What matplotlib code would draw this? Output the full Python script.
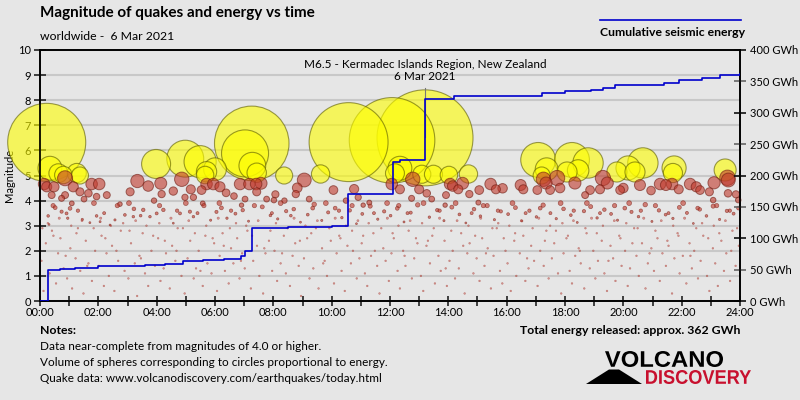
import numpy as np
import matplotlib
matplotlib.use('Agg')
import matplotlib.pyplot as plt
from matplotlib.textpath import TextPath
from matplotlib.patches import PathPatch, Polygon
from matplotlib.font_manager import FontProperties
from matplotlib.transforms import Affine2D

plt.rcParams['font.family'] = ['Lato', 'DejaVu Sans']

# quakes M >= 5 (hour of day, magnitude)
quakes_big = [
    (0.23, 6.32), (0.34, 5.29), (0.63, 5.09), (0.80, 5.02), (1.26, 5.10), (1.37, 5.00),
    (3.98, 5.46), (4.98, 5.67), (5.49, 5.55), (5.66, 5.02), (5.71, 5.15), (6.00, 5.25),
    (7.03, 5.88), (7.26, 6.28), (7.28, 5.39), (7.43, 5.11), (8.37, 5.00), (9.62, 5.06),
    (10.58, 6.33), (12.07, 6.40), (12.17, 5.09), (12.34, 5.29), (13.09, 5.05), (13.20, 6.50),
    (13.49, 5.05), (14.02, 5.02), (14.69, 5.06), (17.08, 5.62), (17.20, 5.00), (17.37, 5.25),
    (18.07, 5.14), (18.24, 5.62), (18.45, 5.20), (18.79, 5.50), (19.78, 5.14), (20.16, 5.30),
    (20.40, 5.14), (20.67, 5.50), (21.70, 5.10), (21.74, 5.30), (23.49, 5.22),
]

# quakes M 3.8 - 5
quakes_red = [
    (0.14, 4.66), (0.23, 4.55), (0.48, 4.55), (0.86, 4.89), (0.86, 4.22), (1.14, 4.55),
    (1.37, 4.35), (1.77, 4.66), (2.03, 4.66), (1.66, 4.29), (2.29, 4.22), (1.94, 4.16),
    (1.51, 4.06), (0.40, 4.22), (0.74, 4.09), (3.34, 4.78), (3.71, 4.58), (4.14, 4.69),
    (4.57, 4.38), (4.86, 4.85), (5.17, 4.45), (5.54, 4.42), (3.09, 4.35), (4.17, 4.26),
    (3.91, 4.00), (4.97, 4.13), (5.26, 4.13), (5.71, 4.66), (5.94, 4.66), (6.17, 4.55),
    (6.38, 4.31), (6.65, 4.18), (6.86, 4.66), (7.18, 4.66), (7.41, 4.66), (7.58, 4.69),
    (7.43, 4.35), (7.03, 4.06), (7.77, 4.06), (8.07, 4.25), (8.02, 4.02), (8.38, 4.00),
    (8.82, 4.51), (9.06, 4.82), (8.77, 4.26), (9.23, 4.06), (10.06, 4.42), (10.77, 4.46),
    (10.91, 4.13), (10.49, 4.00), (12.06, 4.66), (12.34, 4.45), (13.00, 4.45), (13.26, 4.29),
    (12.78, 4.85), (13.43, 4.06), (13.92, 4.22), (14.06, 4.66), (14.15, 4.58), (14.34, 4.45),
    (14.49, 4.69), (15.06, 4.42), (15.45, 4.66), (15.63, 4.45), (15.86, 4.49), (16.48, 4.62),
    (16.57, 4.45), (17.05, 4.42), (17.26, 4.85), (12.74, 4.09), (14.72, 4.26), (17.35, 4.70),
    (17.73, 4.90), (17.83, 4.50), (18.34, 4.70), (18.86, 4.42), (19.30, 4.90), (19.89, 4.42),
    (20.57, 4.62), (21.26, 4.66), (21.46, 4.62), (21.67, 4.66), (22.29, 4.66), (22.63, 4.42),
    (22.95, 4.35), (23.08, 4.02), (23.11, 4.71), (23.57, 4.91), (23.60, 4.82), (23.59, 4.29),
    (23.86, 4.25), (23.94, 4.02), (17.49, 4.42), (18.69, 4.22), (2.74, 3.86), (1.09, 3.89),
    (5.58, 3.89), (6.91, 3.82), (11.29, 3.92), (11.08, 3.82), (13.89, 3.82), (15.03, 3.92),
    (19.20, 4.45), (19.45, 4.70), (20.00, 4.50), (20.95, 4.40), (21.90, 4.45), (22.50, 4.55),
]

# quakes M 3 - 3.9
quakes_mid = [
    (0.28, 3.39), (0.31, 3.05), (0.52, 3.72), (0.74, 3.56), (0.91, 3.49), (1.03, 3.69),
    (1.45, 3.25), (1.71, 3.12), (1.94, 3.39), (2.06, 3.16), (2.40, 3.03), (2.57, 3.23),
    (2.91, 3.43), (3.20, 3.36), (3.22, 3.67), (3.54, 3.63), (3.77, 3.36), (4.00, 3.49),
    (4.23, 3.63), (4.57, 3.10), (4.80, 3.49), (5.14, 3.56), (5.26, 3.36), (5.62, 3.80),
    (5.85, 3.22), (6.05, 3.55), (6.22, 3.71), (6.41, 3.30), (6.70, 3.48), (6.95, 3.62),
    (7.15, 3.18), (7.62, 3.75), (7.90, 3.41), (8.15, 3.27), (8.44, 3.58), (8.70, 3.66),
    (8.93, 3.14), (9.18, 3.44), (9.40, 3.85), (9.66, 3.21), (9.88, 3.53), (10.12, 3.70),
    (10.35, 3.32), (10.62, 3.61), (10.85, 3.08), (11.05, 3.47), (11.32, 3.78), (11.58, 3.26),
    (11.80, 3.57), (12.02, 3.40), (12.25, 3.69), (12.48, 3.15), (12.71, 3.52), (12.95, 3.83),
    (13.35, 3.34), (13.62, 3.62), (13.85, 3.20), (14.12, 3.74), (14.38, 3.45), (14.60, 3.11),
    (14.88, 3.66), (15.10, 3.38), (15.33, 3.80), (15.58, 3.24), (15.80, 3.57), (16.05, 3.46),
    (16.30, 3.72), (16.52, 3.19), (16.78, 3.60), (17.02, 3.35), (17.25, 3.82), (17.50, 3.50),
    (17.70, 3.28), (17.95, 3.67), (18.20, 3.42), (18.42, 3.13), (18.65, 3.58), (18.88, 3.76),
    (19.10, 3.31), (19.35, 3.64), (19.58, 3.47), (19.80, 3.22), (20.05, 3.70), (20.28, 3.55),
    (20.52, 3.36), (20.75, 3.84), (20.98, 3.17), (21.22, 3.61), (21.45, 3.44), (21.70, 3.29),
    (21.92, 3.73), (22.18, 3.51), (22.40, 3.09), (22.62, 3.65), (22.85, 3.39), (23.08, 3.78),
    (23.30, 3.25), (23.55, 3.59), (23.78, 3.48), (23.95, 3.70),
    (0.45, 3.8), (0.95, 3.3), (1.30, 3.6), (1.85, 3.9), (2.20, 3.5), (2.65, 3.8), (3.05, 3.9),
    (3.45, 3.4), (4.10, 3.8), (4.70, 3.6), (5.00, 3.9), (5.40, 3.5), (6.15, 3.9), (6.55, 3.6),
    (7.35, 3.8), (7.95, 3.5), (8.25, 3.9), (8.60, 3.4), (9.35, 3.7), (9.80, 3.9), (10.25, 3.6),
    (10.70, 3.8), (11.45, 3.5), (11.90, 3.9), (12.30, 3.8), (12.60, 3.5), (13.15, 3.9),
    (13.70, 3.6), (14.25, 3.9), (14.80, 3.5), (15.20, 3.8), (15.70, 3.6), (16.20, 3.9),
    (16.65, 3.5), (17.15, 3.7), (17.85, 3.9), (18.30, 3.6), (18.75, 3.9), (19.20, 3.5),
    (19.70, 3.8), (20.20, 3.9), (20.60, 3.6), (21.10, 3.8), (21.55, 3.5), (22.05, 3.9),
    (22.55, 3.7), (23.20, 3.8), (23.65, 3.6),
]

# quakes below M 3.3 (tiny dots)
quakes_small = [
    (0.05, 1.6), (0.12, 0.4), (0.20, 2.3), (0.33, 1.1), (0.41, 2.8), (0.55, 0.7), (0.62, 1.9), (0.70, 2.5), (0.81, 1.3), (0.93, 0.9),
    (1.04, 2.1), (1.10, 0.5), (1.22, 1.7), (1.30, 2.9), (1.38, 1.2), (1.49, 0.3), (1.57, 2.4), (1.66, 1.5), (1.78, 0.8), (1.89, 2.0),
    (2.02, 1.4), (2.11, 2.6), (2.19, 0.6), (2.28, 1.9), (2.36, 1.0), (2.47, 2.2), (2.55, 0.4), (2.68, 1.6), (2.77, 2.8), (2.90, 1.2),
    (3.03, 0.9), (3.12, 2.3), (3.25, 1.5), (3.33, 0.2), (3.41, 1.8), (3.52, 2.7), (3.60, 1.1), (3.71, 0.6), (3.82, 2.0), (3.94, 1.4),
    (4.05, 2.5), (4.13, 0.8), (4.24, 1.3), (4.32, 1.9), (4.45, 0.5), (4.53, 2.2), (4.64, 1.6), (4.72, 2.9), (4.85, 1.0), (4.96, 0.3),
    (5.06, 1.7), (5.15, 2.4), (5.27, 0.9), (5.35, 1.3), (5.44, 2.0), (5.58, 0.6), (5.67, 2.6), (5.74, 1.5), (5.88, 1.1), (5.97, 2.3),
    (6.07, 0.4), (6.16, 1.8), (6.26, 2.7), (6.34, 1.2), (6.47, 0.7), (6.55, 2.1), (6.63, 1.5), (6.76, 2.5), (6.84, 0.9), (6.93, 1.9),
    (7.02, 1.3), (7.11, 2.8), (7.23, 0.5), (7.31, 1.6), (7.44, 2.2), (7.52, 1.0), (7.65, 0.3), (7.73, 1.9), (7.85, 2.4), (7.96, 1.2),
    (8.04, 2.0), (8.13, 0.8), (8.25, 1.5), (8.36, 2.6), (8.43, 1.1), (8.57, 0.6), (8.66, 1.8), (8.75, 2.3), (8.87, 1.4), (8.95, 0.2),
    (9.05, 1.7), (9.16, 2.5), (9.24, 0.9), (9.37, 1.3), (9.46, 2.9), (9.55, 0.5), (9.67, 2.1), (9.76, 1.6), (9.84, 1.0), (9.97, 2.4),
    (10.08, 0.7), (10.17, 1.9), (10.26, 2.6), (10.34, 1.2), (10.45, 0.4), (10.54, 2.2), (10.66, 1.5), (10.73, 2.0), (10.86, 0.9), (10.95, 1.7),
    (11.03, 2.3), (11.14, 1.1), (11.22, 0.6), (11.35, 1.8), (11.43, 2.7), (11.56, 1.4), (11.64, 0.3), (11.77, 2.1), (11.85, 1.6), (11.96, 0.8),
    (12.05, 1.9), (12.13, 2.5), (12.26, 1.2), (12.34, 0.5), (12.45, 2.0), (12.53, 1.4), (12.64, 2.8), (12.75, 0.9), (12.83, 1.7), (12.94, 2.3),
    (13.06, 1.0), (13.14, 0.4), (13.25, 2.2), (13.37, 1.5), (13.45, 2.6), (13.54, 0.7), (13.66, 1.8), (13.74, 1.2), (13.87, 2.4), (13.95, 0.6),
    (14.04, 1.6), (14.15, 2.0), (14.23, 0.9), (14.36, 1.3), (14.44, 2.7), (14.56, 0.3), (14.65, 1.9), (14.73, 2.3), (14.86, 1.1), (14.97, 1.7),
    (15.07, 0.8), (15.16, 2.5), (15.24, 1.4), (15.35, 2.1), (15.46, 0.5), (15.55, 1.8), (15.66, 2.9), (15.77, 1.2), (15.85, 0.7), (15.96, 2.0),
    (16.03, 1.5), (16.14, 0.4), (16.26, 2.4), (16.33, 1.0), (16.45, 1.9), (16.57, 2.6), (16.64, 0.8), (16.75, 1.3), (16.84, 2.2), (16.94, 1.6),
    (17.06, 0.6), (17.15, 2.0), (17.27, 1.4), (17.36, 2.8), (17.44, 0.9), (17.55, 1.7), (17.63, 2.3), (17.76, 1.1), (17.87, 0.3), (17.95, 1.9),
    (18.05, 2.5), (18.16, 1.2), (18.24, 0.7), (18.35, 1.8), (18.47, 2.1), (18.54, 1.5), (18.66, 0.5), (18.74, 2.7), (18.85, 1.3), (18.97, 2.0),
    (19.04, 0.9), (19.13, 1.6), (19.26, 2.4), (19.35, 1.1), (19.44, 0.4), (19.56, 2.2), (19.65, 1.7), (19.73, 0.8), (19.86, 2.6), (19.94, 1.4),
    (20.06, 2.0), (20.15, 0.6), (20.23, 1.3), (20.37, 2.9), (20.45, 1.8), (20.53, 1.0), (20.64, 2.3), (20.76, 0.5), (20.84, 1.5), (20.96, 2.1),
    (21.05, 1.2), (21.17, 2.5), (21.25, 0.8), (21.34, 1.9), (21.46, 1.4), (21.55, 2.2), (21.67, 0.3), (21.75, 1.7), (21.86, 2.7), (21.93, 1.1),
    (22.04, 1.8), (22.16, 0.7), (22.27, 2.3), (22.35, 1.3), (22.43, 2.0), (22.56, 0.9), (22.65, 1.6), (22.74, 2.6), (22.87, 1.0), (22.95, 0.4),
    (23.07, 2.1), (23.15, 1.5), (23.24, 0.6), (23.36, 2.4), (23.45, 1.2), (23.53, 1.9), (23.66, 0.8), (23.74, 2.8), (23.85, 1.4), (23.96, 2.2),
    (0.08, 2.9), (0.27, 3.1), (0.46, 2.6), (0.66, 3.3), (0.88, 1.8), (1.07, 3.0), (1.25, 2.7), (1.44, 3.2), (1.62, 1.4), (1.84, 2.9),
    (2.08, 3.3), (2.24, 2.5), (2.43, 3.0), (2.62, 2.0), (2.85, 3.1), (3.07, 2.8), (3.28, 3.2), (3.46, 1.7), (3.65, 3.0), (3.88, 2.6),
    (4.09, 3.1), (4.28, 2.4), (4.49, 3.3), (4.68, 2.0), (4.90, 2.9), (5.10, 3.2), (5.31, 2.7), (5.50, 1.2), (5.70, 3.0), (5.92, 2.5),
    (6.11, 3.3), (6.30, 2.2), (6.51, 2.9), (6.72, 3.1), (6.89, 1.6), (7.07, 3.0), (7.27, 2.6), (7.48, 3.2), (7.69, 2.1), (7.90, 2.8),
    (8.09, 3.1), (8.30, 1.9), (8.49, 2.9), (8.71, 3.3), (8.91, 2.4), (9.10, 3.0), (9.30, 2.7), (9.51, 3.2), (9.71, 1.5), (9.92, 2.9),
    (10.12, 3.3), (10.30, 2.5), (10.49, 3.0), (10.70, 2.8), (10.90, 3.2), (11.08, 2.6), (11.27, 3.1), (11.48, 2.0), (11.70, 2.9), (11.91, 3.3),
    (12.09, 2.7), (12.29, 3.0), (12.50, 1.8), (12.69, 3.2), (12.89, 2.5), (13.10, 3.1), (13.30, 2.4), (13.50, 2.9), (13.70, 3.3), (13.91, 1.3),
    (14.10, 2.8), (14.30, 3.2), (14.51, 2.2), (14.69, 3.0), (14.92, 2.6), (15.11, 3.3), (15.29, 1.9), (15.51, 2.9), (15.71, 3.1), (15.90, 2.5),
    (16.09, 3.0), (16.29, 2.7), (16.50, 3.2), (16.70, 1.7), (16.89, 2.9), (17.10, 3.3), (17.31, 2.4), (17.49, 3.0), (17.69, 2.8), (17.91, 3.1),
    (18.10, 2.6), (18.29, 3.2), (18.51, 2.0), (18.70, 2.9), (18.91, 3.3), (19.09, 2.7), (19.30, 3.0), (19.49, 1.6), (19.69, 3.2), (19.90, 2.5),
    (20.10, 3.1), (20.31, 2.3), (20.49, 2.9), (20.70, 3.3), (20.90, 1.9), (21.10, 2.8), (21.30, 3.2), (21.51, 2.4), (21.71, 3.0), (21.89, 2.6),
    (22.10, 3.3), (22.30, 1.8), (22.50, 2.9), (22.70, 3.1), (22.91, 2.5), (23.10, 3.0), (23.29, 2.7), (23.50, 3.2), (23.70, 2.0), (23.90, 2.9),
]

# cumulative energy (hour, GWh)
energy_t = [0, 0.28, 0.7, 1.2, 2.0, 2.8, 3.6, 4.3, 4.9, 5.6, 6.3, 6.9, 7.03, 7.26, 8.5, 10.0,
            10.57, 11.3, 12.11, 12.34, 13.2, 14.2, 15.5, 16.5, 17.2, 18.0, 18.9, 19.3, 19.7,
            20.5, 21.4, 21.9, 22.7, 23.3, 24]
energy_gwh = [0, 49, 51, 53, 55, 56, 57, 59, 63, 65, 67, 71, 79, 117, 118, 119,
              170, 171, 222, 225, 322, 326, 327, 327, 331, 334, 336, 339, 344,
              345, 347, 352, 356, 360, 362]

hour_labels = ['%02d:00' % h for h in range(0, 25, 2)]
gwh_major = [0, 100, 200, 300, 400]
gwh_minor = [50, 150, 250, 350]

BG = '#e6e6e6'
W, H = 800, 400


def radius_px(m):
    # volume ~ energy -> radius ~ 10^(0.5 M)
    return np.maximum(48 * 10 ** (0.5 * (np.asarray(m) - 6.5)), 0.9)


def size_pts(m):
    return (2 * radius_px(m) * 72 / 100) ** 2


fig = plt.figure(figsize=(8, 4), dpi=100, facecolor=BG)
ax = fig.add_axes([40 / W, 1 - 301 / H, 700 / W, 251 / H])
ax.set_facecolor(BG)

# big to small so small bubbles sit on top
for group, face, edge, lw, alpha in [
        (quakes_big, '#ffff00', '#5a5a00', 0.8, 0.6),
        (quakes_red, '#c0392b', '#6e1a10', 0.7, 0.6),
        (quakes_mid, '#c0392b', '#7a1a10', 0.5, 0.6),
        (quakes_small, '#c0504d', '#a03020', 0.3, 0.55)]:
    g = sorted(group, key=lambda q: -q[1])
    t = [q[0] for q in g]
    m = [q[1] for q in g]
    ax.scatter(t, m, s=size_pts(m), facecolor=face, edgecolor=edge, linewidth=lw,
               alpha=alpha, clip_on=False, zorder=3)

ax.set_xlim(0, 24)
ax.set_ylim(0, 10)
ax.set_yticks(range(11))
ax.grid(axis='y', color='#c8c8c8', lw=1.5)
ax.set_axisbelow(True)
ax.set_xticks(range(0, 25, 2), hour_labels)
ax.set_xticks(range(0, 25), minor=True)
ax.tick_params(axis='y', direction='inout', length=9, width=1.2, color='#222',
               labelsize=8, pad=2)
ax.tick_params(axis='x', which='both', direction='inout', length=7, width=1.2,
               color='#222', labelsize=8, pad=1)
ax.set_ylabel('Magnitude', fontsize=8, labelpad=2)
for s in ax.spines.values():
    s.set_color('black')
    s.set_linewidth(1.2)

ax2 = ax.twinx()
ax2.step(energy_t, energy_gwh, where='post', color='#0000cc', lw=1.2, zorder=5)
ax2.plot([13.2, 13.2], [8.5, 6.55], transform=ax.transData, color='#777777', lw=0.8)
ax2.set_ylim(0, 400)
ax2.set_yticks(gwh_major, ['%d GWh' % v for v in gwh_major])
ax2.set_yticks(gwh_minor, ['%d GWh' % v for v in gwh_minor], minor=True)
ax2.tick_params(axis='y', which='both', direction='inout', length=9, width=1.2,
                labelsize=8, pad=3)
ax2.tick_params(axis='y', which='major', color='#111')
ax2.tick_params(axis='y', which='minor', color='#666')
for s in ax2.spines.values():
    s.set_linewidth(1.2)


def ftext(x, y, s, **kw):
    fig.text(x / W, 1 - y / H, s, va='center', **kw)


ftext(40, 13, 'Magnitude of quakes and energy vs time', fontsize=11, weight='bold')
ftext(40, 36, 'worldwide -  6 Mar 2021', fontsize=8.8)
fig.add_artist(plt.Line2D([600 / W, 741 / W], [1 - 20 / H] * 2, color='#0000cc', lw=1.2))
ftext(600, 32, 'Cumulative seismic energy', fontsize=8.8, weight='bold')
ftext(425, 64, 'M6.5 - Kermadec Islands Region, New Zealand', fontsize=8.5, ha='center')
ftext(425, 77, '6 Mar 2021', fontsize=8.5, ha='center')

ftext(40, 331, 'Notes:', fontsize=8.8, weight='bold')
ftext(40, 347, 'Data near-complete from magnitudes of 4.0 or higher.', fontsize=8.5)
ftext(40, 363, 'Volume of spheres corresponding to circles proportional to energy.', fontsize=8.5)
ftext(40, 379, 'Quake data: www.volcanodiscovery.com/earthquakes/today.html', fontsize=8.5)
ftext(740, 331, 'Total energy released: approx. 362 GWh', fontsize=8.8, weight='bold', ha='right')


# logo text squeezed into a pixel box
def path_text(s, x0, y0, x1, y1, color):
    tp = TextPath((0, 0), s, prop=FontProperties(family='Liberation Sans', weight='bold'), size=1)
    ext = tp.get_extents()
    sx = (x1 - x0) / ext.width / 100
    sy = (y1 - y0) / ext.height / 100
    tr = Affine2D().translate(-ext.x0, -ext.y0).scale(sx, sy).translate(x0 / 100, (H - y1) / 100)
    fig.add_artist(PathPatch(tp, transform=tr + fig.dpi_scale_trans, facecolor=color, lw=0))


path_text('VOLCANO', 605, 351, 723, 367, 'black')
path_text('DISCOVERY', 646, 370, 751, 384, '#c8102e')
tri = [(586, 384), (609, 369.5), (619, 369.5), (642, 384)]
fig.add_artist(Polygon([(x / 100, (H - y) / 100) for x, y in tri], closed=True,
                       facecolor='black', lw=0, transform=fig.dpi_scale_trans))

fig.savefig('out.png', dpi=100, facecolor=BG)
